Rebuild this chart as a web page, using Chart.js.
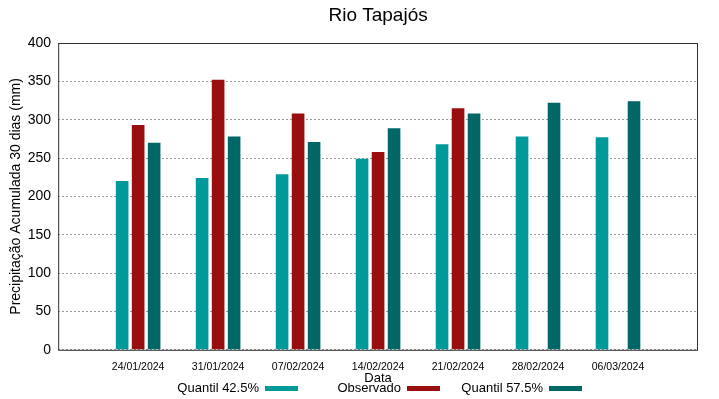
<!DOCTYPE html>
<html>
<head>
<meta charset="utf-8">
<script src="https://cdn.jsdelivr.net/npm/chart.js@4.4.1/dist/chart.umd.min.js"></script>
<style>
  html, body { margin: 0; padding: 0; background: #fff; }
  #wrap { width: 719px; height: 399px; }
</style>
</head>
<body>
<div id="wrap"><canvas id="chart"></canvas></div>
<script>
// datas e valores
const dates = ["24/01/2024", "31/01/2024", "07/02/2024", "14/02/2024", "21/02/2024", "28/02/2024", "06/03/2024"];
const quantil425 = [220, 224, 229, 249, 268, 278, 277];
const observado = [293, 352, 308, 258, 315, null, null];
const quantil575 = [270, 278, 271, 289, 308, 322, 324];
const yTicks = [0, 50, 100, 150, 200, 250, 300, 350, 400];

// categorias vazias nas pontas (eixo vai de -1 a 7 como no gnuplot)
const pad = arr => [null, ...arr, null];
const labels = ["", ...dates, ""];

const FONT = "'Liberation Sans', Arial, sans-serif";

// título centrado na área do gráfico, moldura e legenda estilo gnuplot (texto antes da amostra)
const framePlugin = {
    id: "frame",
    afterDraw(chart) {
        const { ctx, chartArea: a } = chart;
        ctx.save();
        ctx.strokeStyle = "#333";
        ctx.lineWidth = 1;
        ctx.strokeRect(a.left + 0.5, a.top + 0.5, a.right - a.left - 1, a.bottom - a.top);

        ctx.fillStyle = "#000";
        ctx.font = "19px " + FONT;
        ctx.textAlign = "center";
        ctx.textBaseline = "middle";
        ctx.fillText("Rio Tapajós", (a.left + a.right) / 2, 16);

        // legenda
        ctx.font = "13px " + FONT;
        ctx.textAlign = "right";
        chart.data.datasets.forEach((ds, i) => {
            const sx = 265 + i * 142;
            const cy = 388.5;
            ctx.fillStyle = "#000";
            ctx.fillText(ds.label, sx - 6, cy);
            ctx.fillStyle = ds.backgroundColor;
            ctx.fillRect(sx, cy - 2.5, 33, 5);
        });
        ctx.restore();
    }
};

new Chart(document.getElementById("chart"), {
    type: "bar",
    data: {
        labels: labels,
        datasets: [
            { label: "Quantil 42.5%", data: pad(quantil425), backgroundColor: "#009999" },
            { label: "Observado", data: pad(observado), backgroundColor: "#990f0f" },
            { label: "Quantil 57.5%", data: pad(quantil575), backgroundColor: "#006666" }
        ]
    },
    options: {
        responsive: true,
        maintainAspectRatio: false,
        animation: false,
        categoryPercentage: 0.6,
        barPercentage: 0.79,
        layout: { padding: { top: 43, right: 21, left: 8, bottom: 13 } },
        plugins: {
            tooltip: { enabled: false },
            legend: { display: false }
        },
        scales: {
            x: {
                offset: false,
                grid: { display: false, drawTicks: false },
                border: { display: false },
                ticks: {
                    autoSkip: false,
                    maxRotation: 0,
                    color: "#000",
                    font: { family: FONT, size: 10.5 },
                    padding: 11
                },
                title: {
                    display: true,
                    text: "Data",
                    color: "#000",
                    font: { family: FONT, size: 13 },
                    padding: { top: -14, bottom: 0 }
                }
            },
            y: {
                min: 0,
                max: 400,
                afterBuildTicks: axis => { axis.ticks = yTicks.map(v => ({ value: v })); },
                grid: { color: "#999", drawTicks: false, lineWidth: 1 },
                border: { display: false, dash: [2, 2] },
                ticks: {
                    color: "#000",
                    font: { family: FONT, size: 14 },
                    padding: 7
                },
                title: {
                    display: true,
                    text: "Precipitação Acumulada 30 dias (mm)",
                    color: "#000",
                    font: { family: FONT, size: 14 },
                    padding: { top: 0, bottom: -4 }
                }
            }
        }
    },
    plugins: [framePlugin]
});
</script>
</body>
</html>
